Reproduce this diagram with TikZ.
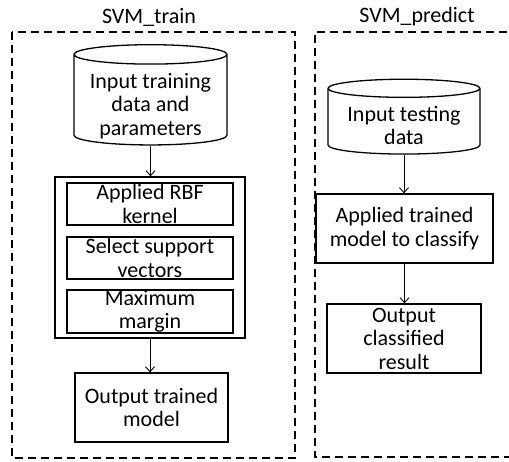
\documentclass[tikz,border=0pt]{standalone}
\usepackage{fontspec}
\setmainfont{Carlito}
\usetikzlibrary{shapes.geometric,arrows.meta}

% text of a cylinder sits a little below the lid
\newcommand{\lowered}[1]{\raisebox{-7pt}[\height][\depth]{\begin{tabular}{@{}c@{}}#1\end{tabular}}}

\begin{document}
\begin{tikzpicture}[x=1pt,y=-1pt,
  font=\fontsize{22}{23.5}\selectfont,
  box/.style={draw,line width=1.3pt,align=center,inner sep=0pt},
  db/.style={draw,line width=1.3pt,align=center,inner sep=0pt,
    shape=cylinder,shape border rotate=90,aspect=0.16},
  frame/.style={line width=1.6pt,dash pattern=on 8pt off 5pt},
  flow/.style={-{Straight Barb[length=5pt,width=9pt]},line width=0.9pt}]

  \clip (0,0) rectangle (509,462);

  % SVM_train
  \node (ttrain) at (149,17) {SVM\_train};
  \draw[frame] (12,32) rectangle (295,458);

  \node[db,minimum width=153pt,minimum height=94pt] (indata) at (150.5,100) {\lowered{Input training\\data and\\parameters}};

  \node[box,minimum width=190pt,minimum height=161pt] (steps) at (150,257.5) {};
  \node[box,minimum width=166pt,minimum height=42pt] (rbf) at (150,204) {Applied RBF\\kernel};
  \node[box,minimum width=166pt,minimum height=42pt] (sv) at (150,258) {Select support\\vectors};
  \node[box,minimum width=166pt,minimum height=43pt] (mm) at (150,311.5) {Maximum\\margin};

  \node[box,minimum width=153pt,minimum height=69pt] (outmodel) at (151.5,407.5) {Output trained\\model};

  \draw[flow] (indata.bottom) -- (indata.bottom |- steps.north);
  \draw[flow] (steps.south) -- (steps.south |- outmodel.north);

  % SVM_predict
  \node (tpred) at (417,17) {SVM\_predict};
  \draw[frame] (520,32) -| (315,457) -- (520,457);

  \node[db,minimum width=152pt,minimum height=57pt] (indata2) at (404,121.5) {\lowered{Input testing\\data}};
  \node[box,minimum width=177pt,minimum height=69pt] (classify) at (404.5,228.5) {Applied trained\\model to classify};
  \node[box,minimum width=154pt,minimum height=69pt] (result) at (404,338.5) {Output\\classified\\result};

  \draw[flow] (indata2.bottom) -- (indata2.bottom |- classify.north);
  \draw[flow] (classify.south) -- (classify.south |- result.north);
\end{tikzpicture}
\end{document}
